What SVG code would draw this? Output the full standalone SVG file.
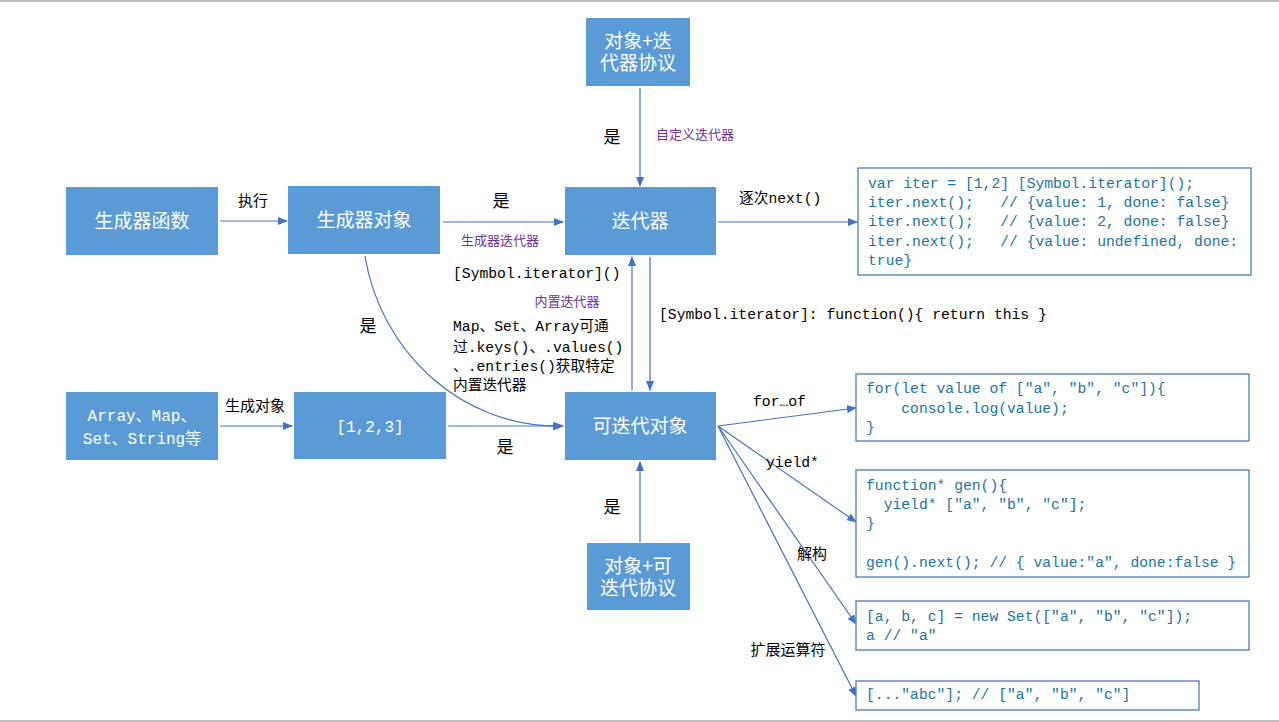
<svg xmlns="http://www.w3.org/2000/svg" width="1279" height="722" viewBox="0 0 1279 722">
<defs>
<marker id="ah" markerUnits="userSpaceOnUse" markerWidth="10" markerHeight="8" refX="9" refY="4" orient="auto">
<path d="M0,0 L10,4 L0,8 Z" fill="#4472C4"/>
</marker>
<style>
.box{fill:#5B9BD5;}
.bt{fill:#fff;font-family:"Microsoft YaHei","Noto Sans CJK SC",sans-serif;font-size:19px;text-anchor:middle;}
.bm{fill:#fff;font-family:"Liberation Mono","Noto Sans CJK SC",monospace;font-size:16px;text-anchor:middle;}
.cb{fill:#fff;stroke:#4A7EBB;stroke-width:1.3;}
.code{fill:#1C74A4;font-family:"Liberation Mono","Noto Sans CJK SC",monospace;font-size:14.7px;white-space:pre;}
.lbl{fill:#000;font-family:"Noto Sans CJK SC",sans-serif;font-size:15px;}
.yes{fill:#000;font-family:"Noto Sans CJK SC",sans-serif;font-size:17px;text-anchor:middle;}
.mono{fill:#000;font-family:"Liberation Mono","Noto Sans CJK SC",monospace;font-size:14.7px;white-space:pre;}
.pur{fill:#7030A0;font-family:"Noto Sans CJK SC",sans-serif;font-size:13px;}
.ln{stroke:#4472C4;stroke-width:1.2;fill:none;}
</style>
</defs>
<rect width="1279" height="722" fill="#fff"/>
<line x1="0" y1="1" x2="1279" y2="1" stroke="#BDBDBD" stroke-width="2"/>
<line x1="0" y1="721" x2="1279" y2="721" stroke="#BDBDBD" stroke-width="2"/>

<g id="connectors">
<line class="ln" x1="220" y1="221" x2="287" y2="221" marker-end="url(#ah)"/>
<line class="ln" x1="443" y1="222" x2="563" y2="222" marker-end="url(#ah)"/>
<line class="ln" x1="640" y1="88" x2="640" y2="186" marker-end="url(#ah)"/>
<line class="ln" x1="718" y1="222" x2="857" y2="222" marker-end="url(#ah)"/>
<line class="ln" x1="632" y1="390" x2="632" y2="257" marker-end="url(#ah)"/>
<line class="ln" x1="650" y1="257" x2="650" y2="390" marker-end="url(#ah)"/>
<path class="ln" d="M365,256 C380,350 460,428 562,426" marker-end="url(#ah)"/>
<line class="ln" x1="220" y1="426" x2="292" y2="426" marker-end="url(#ah)"/>
<line class="ln" x1="448" y1="426" x2="563" y2="426" marker-end="url(#ah)"/>
<line class="ln" x1="640" y1="542" x2="640" y2="462" marker-end="url(#ah)"/>
<line class="ln" x1="718" y1="426" x2="856" y2="408" marker-end="url(#ah)"/>
<line class="ln" x1="718" y1="426" x2="856" y2="522" marker-end="url(#ah)"/>
<line class="ln" x1="718" y1="426" x2="856" y2="624" marker-end="url(#ah)"/>
<line class="ln" x1="718" y1="426" x2="856" y2="696" marker-end="url(#ah)"/>

<text class="lbl" x="253" y="206" text-anchor="middle">执行</text>
<text class="yes" x="501" y="207">是</text>
<text class="pur" x="500" y="245" text-anchor="middle">生成器迭代器</text>
<text class="yes" x="612" y="143">是</text>
<text class="pur" x="695" y="139" text-anchor="middle">自定义迭代器</text>
<text class="mono" x="739" y="203">逐次next()</text>
<text class="mono" x="453" y="278">[Symbol.iterator]()</text>
<text class="pur" x="567" y="306" text-anchor="middle">内置迭代器</text>
<text class="mono" x="453" y="331">Map、Set、Array可通</text>
<text class="mono" x="453" y="352">过.keys()、.values()</text>
<text class="mono" x="453" y="371">、.entries()获取特定</text>
<text class="mono" x="453" y="390">内置迭代器</text>
<text class="mono" x="659" y="319">[Symbol.iterator]: function(){ return this }</text>
<text class="yes" x="368" y="332">是</text>
<text class="lbl" x="255" y="411" text-anchor="middle">生成对象</text>
<text class="yes" x="505" y="453">是</text>
<text class="yes" x="612" y="513">是</text>
<text class="mono" x="753" y="406">for…of</text>
<text class="mono" x="766" y="467">yield*</text>
<text class="lbl" x="812" y="559" text-anchor="middle">解构</text>
<text class="lbl" x="788" y="655" text-anchor="middle">扩展运算符</text>
</g>

<g id="n-genfunc"><rect class="box" x="66" y="187" width="152" height="68"/><text class="bt" x="142" y="228">生成器函数</text></g>
<g id="n-genobj"><rect class="box" x="288" y="186" width="152" height="68"/><text class="bt" x="364" y="227">生成器对象</text></g>
<g id="n-iterator"><rect class="box" x="565" y="187" width="151" height="68"/><text class="bt" x="640" y="228">迭代器</text></g>
<g id="n-iterproto"><rect class="box" x="586" y="18" width="104" height="68"/><text class="bt" x="638" y="48">对象+迭<tspan x="638" dy="22">代器协议</tspan></text></g>
<g id="n-builtin"><rect class="box" x="66" y="392" width="152" height="68"/><text class="bm" x="142" y="421">Array、Map、<tspan x="142" dy="23">Set、String等</tspan></text></g>
<g id="n-array"><rect class="box" x="294" y="392" width="152" height="67"/><text class="bm" x="370" y="432">[1,2,3]</text></g>
<g id="n-iterable"><rect class="box" x="565" y="392" width="151" height="68"/><text class="bt" x="640" y="433">可迭代对象</text></g>
<g id="n-iterableproto"><rect class="box" x="587" y="543" width="103" height="67"/><text class="bt" x="638" y="573">对象+可<tspan x="638" dy="22">迭代协议</tspan></text></g>

<g id="c-next"><rect class="cb" x="858" y="168" width="393" height="107"/>
<text class="code" x="868" y="188">var iter = [1,2] [Symbol.iterator]();</text>
<text class="code" x="868" y="207">iter.next();   // {value: 1, done: false}</text>
<text class="code" x="868" y="226">iter.next();   // {value: 2, done: false}</text>
<text class="code" x="868" y="246">iter.next();   // {value: undefined, done:</text>
<text class="code" x="868" y="265">true}</text></g>
<g id="c-forof"><rect class="cb" x="856" y="374" width="393" height="67"/>
<text class="code" x="866" y="393">for(let value of ["a", "b", "c"]){</text>
<text class="code" x="866" y="413">    console.log(value);</text>
<text class="code" x="866" y="432">}</text></g>
<g id="c-yield"><rect class="cb" x="856" y="470" width="393" height="107"/>
<text class="code" x="866" y="490">function* gen(){</text>
<text class="code" x="866" y="509">  yield* ["a", "b", "c"];</text>
<text class="code" x="866" y="528">}</text>
<text class="code" x="866" y="567">gen().next(); // { value:"a", done:false }</text></g>
<g id="c-destruct"><rect class="cb" x="856" y="601" width="393" height="49"/>
<text class="code" x="866" y="621">[a, b, c] = new Set(["a", "b", "c"]);</text>
<text class="code" x="866" y="640">a // "a"</text></g>
<g id="c-spread"><rect class="cb" x="856" y="681" width="343" height="29"/>
<text class="code" x="866" y="699">[..."abc"]; // ["a", "b", "c"]</text></g>
</svg>
